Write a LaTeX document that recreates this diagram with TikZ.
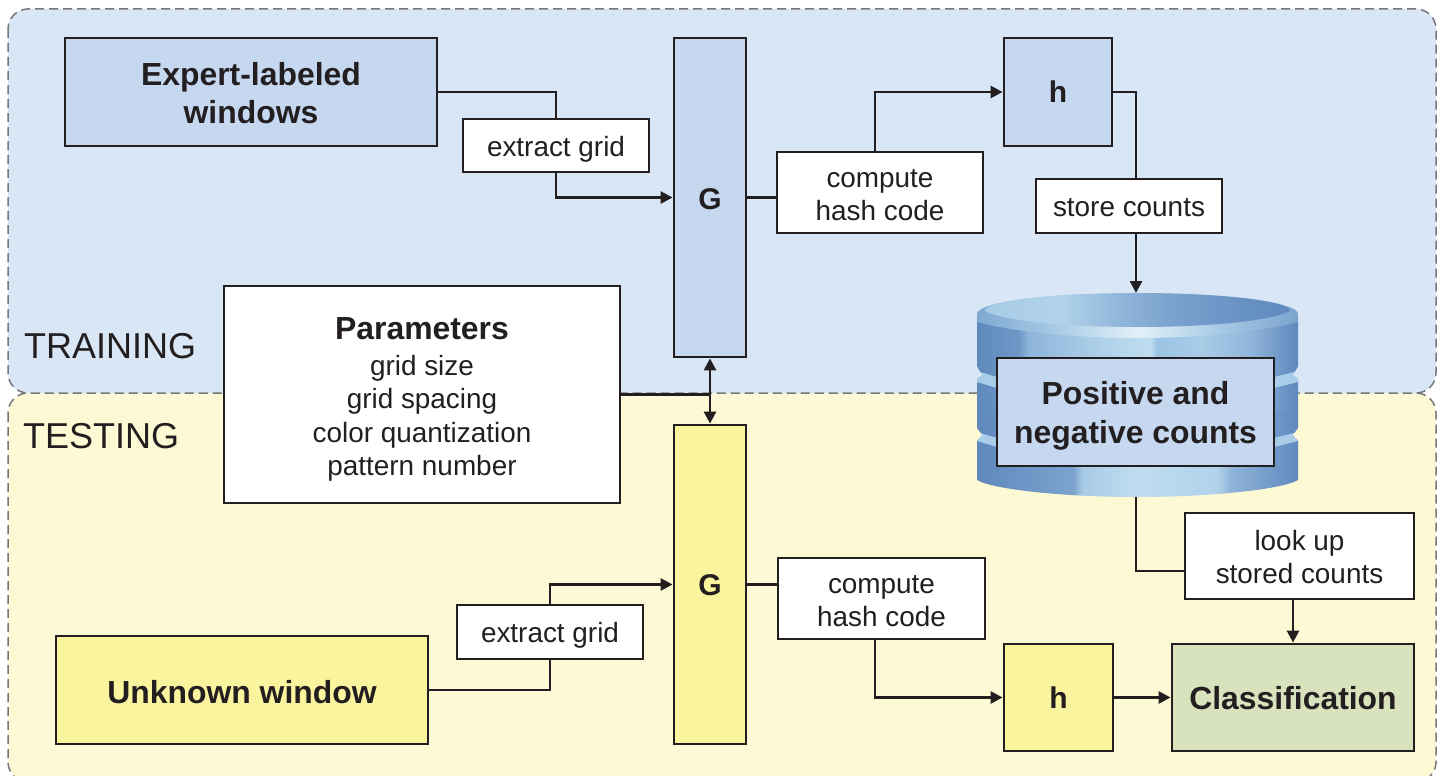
\documentclass[tikz,border=0pt]{standalone}
\usepackage{fontspec}
\setmainfont{Liberation Sans}
\usetikzlibrary{arrows.meta,calc}
\definecolor{trainbg}{HTML}{D9E6F6}
\definecolor{testbg}{HTML}{FDF9D5}
\definecolor{bluebox}{HTML}{C5D8F0}
\definecolor{yellowbox}{HTML}{FBF49E}
\definecolor{greenbox}{HTML}{D8E3BE}
\definecolor{ink}{HTML}{231F20}
\definecolor{dashgray}{HTML}{77787B}
\definecolor{bandcol}{HTML}{A9CDE8}
\definecolor{dba}{HTML}{5F88BD}
\definecolor{dbb}{HTML}{6F98C8}
\definecolor{dbc}{HTML}{8DB4DA}
\definecolor{dbd}{HTML}{BFDDF0}
\definecolor{dbe}{HTML}{90B5DA}
\definecolor{dbf}{HTML}{7CA3CE}
\definecolor{dbg}{HTML}{A8CBE6}
\definecolor{dbh}{HTML}{7FA9D2}
\definecolor{dbi}{HTML}{E2F1F8}
\definecolor{dbj}{HTML}{B0D2EA}
\definecolor{dbk}{HTML}{9CC4E4}
\pgfdeclarehorizontalshading{dbupper}{100bp}{
 color(0bp)=(dba);
 color(25bp)=(dba);
 color(31.5bp)=(dbb);
 color(33bp)=(dbc);
 color(45bp)=(dbj);
 color(52bp)=(dbd);
 color(53bp)=(dbk);
 color(60bp)=(dbg);
 color(67.5bp)=(dbe);
 color(75bp)=(dba);
 color(100bp)=(dba)}
\pgfdeclarehorizontalshading{dblower}{100bp}{
 color(0bp)=(dba);
 color(25bp)=(dba);
 color(40bp)=(dbf);
 color(41.5bp)=(dbg);
 color(50bp)=(dbd);
 color(62.5bp)=(dbj);
 color(64.5bp)=(dbe);
 color(75bp)=(dba);
 color(100bp)=(dba)}
\pgfdeclarehorizontalshading{dbtop}{100bp}{
 color(0bp)=(dbg);
 color(25bp)=(dbg);
 color(37.5bp)=(dbj);
 color(47.5bp)=(dbe);
 color(55bp)=(dbf);
 color(62.5bp)=(dbb);
 color(75bp)=(dba);
 color(100bp)=(dba)}
\pgfdeclarehorizontalshading{dbrim}{100bp}{
 color(0bp)=(dbh);
 color(25bp)=(dbh);
 color(37.5bp)=(dbg);
 color(50bp)=(dbi);
 color(62.5bp)=(dbg);
 color(75bp)=(dbf);
 color(100bp)=(dbf)}
\newcommand{\dn}[2]{\vbox{\kern#1pt\kern#1pt\hbox{\begin{tabular}{@{}c@{}}#2\end{tabular}}}}
\tikzset{
 x=1pt,y=-1pt,
 region/.style={draw=dashgray,line width=1.5pt,dash pattern=on 9pt off 5pt,rounded corners=20pt},
 box/.style={draw=ink,line width=2.8pt,inner sep=0pt,text=ink,font=\fontsize{31.9}{38.5}\selectfont\bfseries},
 letter/.style={box,font=\fontsize{30}{36}\selectfont\bfseries},
 tag/.style={draw=ink,line width=1.2pt,fill=white,inner sep=0pt,text=ink,font=\fontsize{27.9}{33}\selectfont},
 title/.style={anchor=west,inner sep=0pt,text=ink,font=\fontsize{36}{40}\selectfont},
 conn/.style={draw=ink,line width=2.6pt},
 arr/.style={conn,-{Triangle[length=12pt,width=12pt]}},
 barr/.style={conn,{Triangle[length=12pt,width=12pt]}-{Triangle[length=12pt,width=12pt]}},
}
\begin{document}
\begin{tikzpicture}
\useasboundingbox (0,0) rectangle (1440,776);
\fill[white] (0,0) rectangle (1440,776);
\begin{scope}
\clip (0,0) rectangle (1440,776);
\filldraw[region,fill=testbg] (8,393) rectangle (1436,782);
\filldraw[region,fill=trainbg] (8,9) rectangle (1436,393);
\end{scope}
\node[title] (train) at (24,346) {TRAINING};
\node[title] (test) at (23,436) {TESTING};
% database drawing
\path[shading=dbupper] (977,318) -- (977,412) -- (1298,412) -- (1298,318) -- cycle;
\path[shading=dblower] (977,412) -- (977,480) .. controls (992,489) and (1060,497) .. (1137,497) .. controls (1214,497) and (1283,489) .. (1298,480) -- (1298,412) -- cycle;
\path[shading=dbrim] (977,322) -- (977,314) .. controls (977,302) and (1048,293) .. (1137,293) .. controls (1226,293) and (1298,302) .. (1298,314) -- (1298,322) .. controls (1260,332) and (1200,338) .. (1137,338) .. controls (1075,338) and (1015,332) .. (977,322) -- cycle;
\path[shading=dbtop] (985,311) .. controls (985,301) and (1053,293) .. (1137,293) .. controls (1221,293) and (1290,301) .. (1290,311) .. controls (1270,321) and (1210,327) .. (1137,327) .. controls (1064,327) and (1005,321) .. (985,311) -- cycle;
% grooves
\fill[bandcol] (977,371) -- (997,377) -- (997,388) -- (977,382) -- cycle;
\fill[bandcol] (1298,371) -- (1274,377) -- (1274,388) -- (1298,382) -- cycle;
\fill[bandcol] (977,432) -- (997,438) -- (997,447) -- (977,441) -- cycle;
\fill[bandcol] (1298,432) -- (1274,438) -- (1274,447) -- (1298,441) -- cycle;
\fill[trainbg] (976,365) -- (976,379) -- (982,375) -- cycle;
\fill[trainbg] (1299,365) -- (1299,379) -- (1293,375) -- cycle;
\fill[testbg] (976,427) -- (976,441) -- (982,435) -- cycle;
\fill[testbg] (1299,427) -- (1299,441) -- (1293,435) -- cycle;
\coordinate (dbtopc) at (1136,293);
\coordinate (dbbot) at (1136,497);
% boxes
\node[box,fill=bluebox,minimum width=372pt,minimum height=108pt] (expert) at (251,92) {\dn{5}{Expert-labeled\\windows}};
\node[tag,minimum width=186pt,minimum height=53pt] (ex1) at (556,145.5) {\dn{4.5}{extract grid}};
\node[letter,fill=bluebox,minimum width=72pt,minimum height=319pt] (g1) at (710,197.5) {\dn{4.5}{G}};
\node[tag,minimum width=206pt,minimum height=81pt] (comp1) at (880,192.5) {\dn{5}{compute\\hash code}};
\node[letter,fill=bluebox,minimum width=108pt,minimum height=108pt] (h1) at (1058,92) {h};
\node[tag,minimum width=186pt,minimum height=54pt] (store) at (1129,206) {\dn{4}{store counts}};
\node[draw=ink,line width=2.4pt,fill=white,inner sep=0pt,text=ink,minimum width=396pt,minimum height=217pt,font=\fontsize{27.9}{33.5}\selectfont] (params) at (422,394.5) {\dn{6.5}{{\fontsize{31.9}{36}\selectfont\bfseries Parameters}\\[2pt]grid size\\grid spacing\\color quantization\\pattern number}};
\node[box,fill=bluebox,minimum width=277pt,minimum height=108pt] (pos) at (1135.5,412) {\dn{4.5}{Positive and\\negative counts}};
\node[tag,minimum width=229pt,minimum height=86pt] (look) at (1299.5,556) {\dn{4}{look up\\stored counts}};
\node[box,fill=greenbox,minimum width=242pt,minimum height=107pt] (class) at (1293,697.5) {\dn{4}{Classification}};
\node[letter,fill=yellowbox,minimum width=109pt,minimum height=107pt] (h2) at (1058.5,697.5) {h};
\node[letter,fill=yellowbox,minimum width=72pt,minimum height=319pt] (g2) at (710,584.5) {\dn{4}{G}};
\node[tag,minimum width=207pt,minimum height=81pt] (comp2) at (881.5,598.5) {\dn{4.5}{compute\\hash code}};
\node[tag,minimum width=186pt,minimum height=54pt] (ex2) at (550,632) {\dn{4}{extract grid}};
\node[box,fill=yellowbox,minimum width=372pt,minimum height=108pt] (unk) at (242,690) {\dn{6}{Unknown window}};
% connectors
\draw[conn] (expert.east) -| (ex1.north);
\draw[arr] (ex1.south) |- (g1.west);
\draw[conn] (g1.east) -- (g1.east -| comp1.west);
\draw[arr] ([xshift=-5pt]comp1.north) |- (h1.west);
\draw[conn] (h1.east) -| ([xshift=7pt]store.north);
\draw[arr] ([xshift=7pt]store.south) -- (dbtopc);
\draw[conn] (dbbot) |- ([yshift=-15pt]look.west);
\draw[arr] (look.south -| class.north) -- (class.north);
\draw[arr] (h2.east) -- (class.west);
\draw[arr] ([xshift=-6.5pt]comp2.south) |- (h2.west);
\draw[conn] (g2.east) -- (g2.east -| comp2.west);
\draw[arr] (ex2.north) |- (g2.west);
\draw[conn] (unk.east) -| (ex2.south);
\draw[conn] (params.east) -- (params.east -| g1.south);
\draw[barr] (g1.south) -- (g2.north);
\end{tikzpicture}
\end{document}
